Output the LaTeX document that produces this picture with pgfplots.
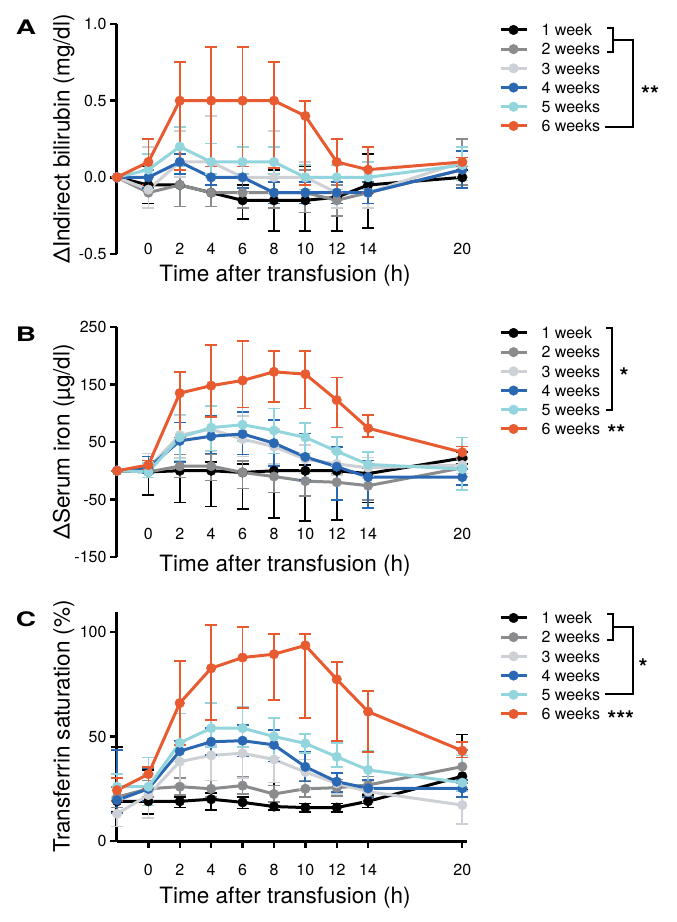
\documentclass[border=0pt]{standalone}
\usepackage{pgfplots}
\pgfplotsset{compat=1.18}
\usepackage{fontspec}
\setmainfont{TeX Gyre Heros}

\definecolor{wkOne}{HTML}{000000}
\definecolor{wkTwo}{HTML}{8A8B8D}
\definecolor{wkThree}{HTML}{CDD0D4}
\definecolor{wkFour}{HTML}{2B68B4}
\definecolor{wkFive}{HTML}{93D5DD}
\definecolor{wkSix}{HTML}{E85A30}

\newcommand{\tickfont}{\fontsize{16}{19}\selectfont}
\newcommand{\labfont}{\fontsize{22.5}{26}\selectfont}
\newcommand{\starfont}{\bfseries\fontsize{23}{24}\selectfont}
\newcommand{\panelfont}{\bfseries\fontsize{20}{22}\selectfont}

\pgfplotsset{
  panel/.style={
    scale only axis, width=350pt, height=230pt,
    xmin=-2, xmax=20.3, clip=false,
    axis y line*=left, axis x line*=bottom,
    axis line style={line width=3pt},
    tick style={line width=2.4pt, black},
    major tick length=7pt, tick align=outside,
    xtick={0,2,4,6,8,10,12,14,20},
    ticklabel style={font=\tickfont},
    /pgf/number format/assume math mode=true,
    every axis y label/.style={at={(axis description cs:-0.152,0.5)}, rotate=90, anchor=center, font=\labfont},
    every axis x label/.style={at={(axis description cs:0.48,0)}, anchor=center, font=\labfont},
    xlabel={Time after transfusion (h)},
    error bars/y dir=both, error bars/y explicit,
    error bars/error bar style={line width=1.7pt},
    error bars/error mark=-,
    error bars/error mark options={rotate=90, line width=1.7pt, mark size=6pt},
    every axis plot/.append style={line width=3pt, mark=*, mark size=4.8pt, mark options={line width=0.4pt}},
    legend cell align=left,
    legend style={at={(axis description cs:1.091,1)}, anchor=north west,
      draw=none, fill=none, inner sep=0pt, font=\tickfont,
      row sep=7.7pt, column sep=13.5pt,
      nodes={inner sep=0pt, text height=11.5pt, text depth=0pt}},
    legend image code/.code={\draw[#1, mark repeat=2, mark phase=2] plot coordinates {(0pt,0pt) (13pt,0pt) (26pt,0pt)};},
  },
  noxline/.style={x axis line style={draw=none}, xtick style={draw=none}},
}

\begin{document}
\begin{tikzpicture}
\useasboundingbox (0,0) rectangle (677pt,922pt);

% ---------- A: indirect bilirubin
\begin{axis}[panel, noxline, at={(117pt,668pt)}, anchor=south west,
    ymin=-0.5, ymax=1.0, ytick={-0.5,0,0.5,1},
    yticklabel style={/pgf/number format/fixed, /pgf/number format/fixed zerofill, /pgf/number format/precision=1},
    xticklabel style={anchor=center, yshift=12pt},
    xlabel style={yshift=-22pt},
    ylabel={ΔIndirect bilirubin (mg/dl)}]
\addplot[wkOne] table[y error plus=ep, y error minus=em] {
t y ep em
-2 0 0 0
0 -0.05 0.12 0.12
2 -0.05 0.10 0.14
4 -0.10 0.17 0.09
6 -0.15 0.10 0.12
8 -0.15 0.20 0.20
10 -0.15 0.22 0.20
12 -0.13 0.10 0.22
14 -0.05 0.20 0.28
20 0.00 0.05 0.05
};
\addplot[wkTwo] table[y error plus=ep, y error minus=em] {
t y ep em
-2 0 0 0
0 -0.10 0.10 0.10
2 -0.05 0.12 0.14
4 -0.10 0.10 0.09
6 -0.10 0.10 0.10
8 -0.10 0.10 0.10
10 -0.10 0.15 0.13
12 -0.15 0.10 0.10
14 -0.10 0.10 0.10
20 0.05 0.20 0.10
};
\addplot[wkThree] table[y error plus=ep, y error minus=em] {
t y ep em
-2 0 0 0
0 -0.08 0.28 0.12
2 0.10 0.20 0.10
4 0.10 0.30 0.10
6 0.00 0.20 0.10
8 0.00 0.30 0.10
10 0.00 0.10 0.10
12 -0.10 0.10 0.10
14 -0.10 0.15 0.10
20 0.10 0.10 0.10
};
\addplot[wkFour] table[y error plus=ep, y error minus=em] {
t y ep em
-2 0 0 0
0 0.00 0.05 0.07
2 0.10 0.05 0.08
4 0.00 0.07 0.05
6 0.00 0.07 0.07
8 -0.10 0.07 0.07
10 -0.10 0.07 0.07
12 -0.10 0.07 0.07
14 -0.10 0.07 0.07
20 0.05 0.12 0.12
};
\addplot[wkFive] table[y error plus=ep, y error minus=em] {
t y ep em
-2 0 0 0
0 0.05 0.10 0.10
2 0.20 0.13 0.13
4 0.10 0.12 0.08
6 0.10 0.10 0.08
8 0.10 0.10 0.08
10 0.00 0.08 0.08
12 0.00 0.08 0.08
14 0.00 0.10 0.08
20 0.08 0.12 0.10
};
\addplot[wkSix] table[y error plus=ep, y error minus=em] {
t y ep em
-2 0 0 0
0 0.10 0.15 0.15
2 0.50 0.25 0.45
4 0.50 0.35 0.43
6 0.50 0.35 0.43
8 0.50 0.25 0.44
10 0.40 0.10 0.45
12 0.10 0.15 0.20
14 0.05 0.15 0.15
20 0.10 0.03 0.03
};
\legend{1 week, 2 weeks, 3 weeks, 4 weeks, 5 weeks, 6 weeks}
\end{axis}

% ---------- B: serum iron
\begin{axis}[panel, noxline, at={(117pt,365pt)}, anchor=south west,
    ymin=-150, ymax=250, ytick={-150,-50,50,150,250},
    xticklabel style={anchor=center, yshift=30pt},
    xlabel style={yshift=-9pt},
    ylabel={ΔSerum iron (µg/dl)}]
\addplot[wkOne] table[y error plus=ep, y error minus=em] {
t y ep em
-2 0 0 0
0 -2 20 40
2 0 15 55
4 0 15 62
6 -3 15 64
8 0 10 82
10 0 10 87
12 0 10 86
14 -5 10 50
20 22 10 10
};
\addplot[wkTwo] table[y error plus=ep, y error minus=em] {
t y ep em
-2 0 0 0
0 -2 10 10
2 8 20 20
4 8 20 25
6 -3 20 28
8 -10 18 28
10 -18 20 26
12 -20 15 30
14 -26 15 25
20 5 15 15
};
\addplot[wkThree] table[y error plus=ep, y error minus=em] {
t y ep em
-2 0 0 0
0 5 25 10
2 62 35 40
4 72 40 38
6 55 40 30
8 42 30 30
10 20 25 25
12 12 20 20
14 5 18 18
20 10 15 15
};
\addplot[wkFour] table[y error plus=ep, y error minus=em] {
t y ep em
-2 0 0 0
0 5 20 10
2 52 32 37
4 60 35 30
6 64 38 36
8 48 40 40
10 24 41 40
12 7 34 58
14 -11 29 54
20 -11 14 14
};
\addplot[wkFive] table[y error plus=ep, y error minus=em] {
t y ep em
-2 0 0 0
0 -2 15 10
2 58 40 40
4 75 37 40
6 80 30 28
8 70 38 40
10 58 25 28
12 34 25 25
14 11 21 21
20 3 55 37
};
\addplot[wkSix] table[y error plus=ep, y error minus=em] {
t y ep em
-2 0 0 0
0 10 8 8
2 135 37 77
4 148 71 54
6 157 69 47
8 172 36 52
10 168 40 60
12 123 39 48
14 74 23 15
20 32 10 10
};
\legend{1 week, 2 weeks, 3 weeks, 4 weeks, 5 weeks, 6 weeks}
\end{axis}

% ---------- C: transferrin saturation
\begin{axis}[panel, at={(117pt,81pt)}, anchor=south west, height=229pt,
    ymin=0, ymax=109.6, ytick={0,50,100},
    xticklabel style={anchor=center, yshift=-22pt},
    xlabel style={yshift=-57pt},
    ylabel={Transferrin saturation (\%)}]
\addplot[wkOne] table[y error plus=ep, y error minus=em] {
t y ep em
-2 19 26 5
0 19 15 6
2 19 2 3
4 20 3 5
6 18.5 2.5 3
8 16.5 11.5 1.5
10 16 2 2
12 16 2 2
14 19 3 3
20 31 20 6
};
\addplot[wkTwo] table[y error plus=ep, y error minus=em] {
t y ep em
-2 21 5 5
0 25 4 4
2 26 4 4
4 25 4 4
6 26.5 4 4
8 22.5 4 4
10 25 4 4
12 25.5 4 4
14 26.8 4 4
20 35.6 8 8
};
\addplot[wkThree] table[y error plus=ep, y error minus=em] {
t y ep em
-2 13 8 6
0 22 10 11
2 38 10 11
4 41 5 12
6 42 6 12
8 39 6 11
10 33 6 8
12 27.6 5 5
14 23.6 5 5
20 17.2 8 9
};
\addplot[wkFour] table[y error plus=ep, y error minus=em] {
t y ep em
-2 19.5 24 6
0 25 10 6
2 43 5 5
4 47.5 6.5 6.5
6 48 7.5 7.5
8 46 7 8
10 35.5 7 7
12 28.4 4 5
14 25.2 4 4
20 25.2 4 4
};
\addplot[wkFive] table[y error plus=ep, y error minus=em] {
t y ep em
-2 26 6 6
0 26 14 9
2 47 14 9
4 54 12 9
6 54 10 9
8 50 9 10
10 46.7 4.5 4.5
12 40.3 6.7 5
14 34 9 9
20 27.9 13 4
};
\addplot[wkSix] table[y error plus=ep, y error minus=em] {
t y ep em
-2 24.3 5.7 5.3
0 32 3.5 7
2 66 20 20
4 82.7 20.8 24.7
6 87.8 14.6 24.3
8 89.4 9.6 21.9
10 93.6 5.4 34.6
12 77.4 8.4 29.6
14 61.9 10 19.2
20 43.2 4.3 3.2
};
\legend{1 week, 2 weeks, 3 weeks, 4 weeks, 5 weeks, 6 weeks}
\end{axis}

% panel letters
\node[font=\panelfont] at (26pt,895pt) {\scalebox{1.4}[1]{A}};
\node[font=\panelfont] at (26pt,588pt) {\scalebox{1.4}[1]{B}};
\node[font=\panelfont] at (26pt,303pt) {\scalebox{1.4}[1]{C}};

% significance brackets
\begin{scope}[line width=2pt]
\draw (607pt,894pt) -- (613pt,894pt) -- (613pt,870pt) -- (607pt,870pt);
\draw (613pt,882pt) -- (633pt,882pt) -- (633pt,795pt) -- (605pt,795pt);
\node[font=\starfont] at (650pt,828pt) {**};

\draw (606pt,594pt) -- (612pt,594pt) -- (612pt,512pt) -- (606pt,512pt);
\node[font=\starfont] at (624pt,546pt) {*};
\node[font=\starfont, anchor=west] at (603pt,489pt) {**};

\draw (607pt,308pt) -- (613pt,308pt) -- (613pt,282pt) -- (607pt,282pt);
\draw (613pt,295pt) -- (633pt,295pt) -- (633pt,228pt) -- (605pt,228pt);
\node[font=\starfont] at (643pt,255pt) {*};
\node[font=\starfont, anchor=west] at (603pt,203pt) {***};
\end{scope}
\end{tikzpicture}
\end{document}
